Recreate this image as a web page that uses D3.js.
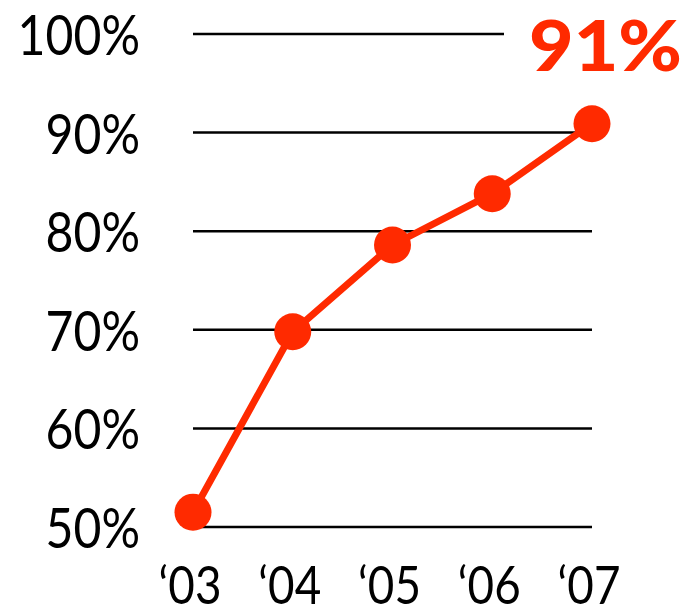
<!DOCTYPE html>
<html>
<head>
<meta charset="utf-8">
<script src="https://cdn.jsdelivr.net/npm/d3@7"></script>
<style>
  body { margin: 0; background: #fff; }
</style>
</head>
<body>
<div id="chart"></div>
<script>
const years = ["\u201803", "\u201804", "\u201805", "\u201806", "\u201807"];
const values = [51.5, 69.8, 78.6, 83.8, 90.9];
const yTicks = [50, 60, 70, 80, 90, 100];
const callout = "91%";

const width = 690;
const height = 615;
const red = "#ff2a00";
const font = "Lato, 'Open Sans', sans-serif";

const x = d3.scalePoint()
  .domain(years)
  .range([193, 592]);

const y = d3.scaleLinear()
  .domain([50, 100])
  .range([527, 34]);

const svg = d3.select("#chart")
  .append("svg")
    .attr("width", width)
    .attr("height", height);

// gridlines, the top one is cut short to leave room for the callout
svg.append("g")
  .selectAll("line")
  .data(yTicks)
  .join("line")
    .attr("x1", 193)
    .attr("x2", d => d === 100 ? 504 : 592)
    .attr("y1", d => y(d))
    .attr("y2", d => y(d))
    .attr("stroke", "#000")
    .attr("stroke-width", 2.5);

svg.append("g")
  .selectAll("text")
  .data(yTicks)
  .join("text")
    .attr("transform", d => `translate(140,${y(d) + 21}) scale(0.86,1)`)
    .attr("text-anchor", "end")
    .attr("font-family", font)
    .attr("font-size", 56)
    .attr("fill", "#000")
    .text(d => d + "%");

svg.append("g")
  .selectAll("text")
  .data(years)
  .join("text")
    .attr("transform", d => `translate(${x(d) - 3},604) scale(0.88,1)`)
    .attr("text-anchor", "middle")
    .attr("font-family", font)
    .attr("font-size", 52)
    .attr("fill", "#000")
    .text(d => d);

const pts = years.map((d, i) => ({ year: d, value: values[i] }));

svg.append("path")
  .datum(pts)
  .attr("fill", "none")
  .attr("stroke", red)
  .attr("stroke-width", 7)
  .attr("stroke-linejoin", "round")
  .attr("d", d3.line().x(d => x(d.year)).y(d => y(d.value)));

svg.append("g")
  .selectAll("circle")
  .data(pts)
  .join("circle")
    .attr("cx", d => x(d.year))
    .attr("cy", d => y(d.value))
    .attr("r", 18.5)
    .attr("fill", red);

svg.append("text")
  .attr("transform", "translate(682,71) scale(1.1,1)")
  .attr("text-anchor", "end")
  .attr("font-family", font)
  .attr("font-weight", 900)
  .attr("font-size", 70)
  .attr("fill", red)
  .text(callout);
</script>
</body>
</html>
